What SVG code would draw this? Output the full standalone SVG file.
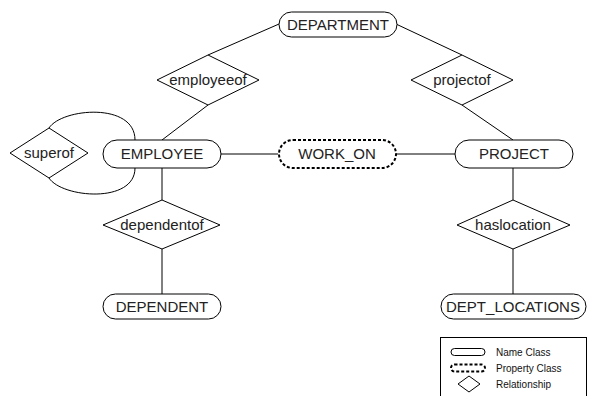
<svg xmlns="http://www.w3.org/2000/svg" width="590" height="396" viewBox="0 0 590 396">
<style>
.s{fill:#fff;stroke:#000;stroke-width:1}
.d{fill:#fff;stroke:#000;stroke-width:2;stroke-dasharray:3 2}
.c{fill:none;stroke:#000;stroke-width:1}
.t{font-family:"Liberation Sans",Arial,sans-serif;font-size:15px;fill:#222;text-anchor:middle}
.l{font-family:"Liberation Sans",Arial,sans-serif;font-size:10px;fill:#111}
</style>
<rect width="590" height="396" fill="#fff"/>
<g id="connectors">
<line class="c" x1="208" y1="55" x2="279" y2="24"/>
<line class="c" x1="208" y1="105" x2="162" y2="140"/>
<line class="c" x1="396" y1="24" x2="462" y2="55"/>
<line class="c" x1="462" y1="105" x2="513" y2="140"/>
<line class="c" x1="221" y1="154" x2="278" y2="154"/>
<line class="c" x1="396" y1="154" x2="455" y2="154"/>
<line class="c" x1="162" y1="168" x2="162" y2="200"/>
<line class="c" x1="162" y1="249" x2="162" y2="294"/>
<line class="c" x1="513" y1="168" x2="513" y2="200"/>
<line class="c" x1="513" y1="249" x2="513" y2="294"/>
<path class="c" d="M49 128 C62 108 135 102 135 140"/>
<path class="c" d="M49 178 C62 198 135 204 135 168"/>
</g>
<g id="DEPARTMENT"><rect class="s" x="279" y="12" width="118" height="25" rx="12.5"/><text class="t" x="338" y="30">DEPARTMENT</text></g>
<g id="employeeof"><polygon class="s" points="157,80 208,55 259,80 208,105"/><text class="t" x="208" y="85">employeeof</text></g>
<g id="projectof"><polygon class="s" points="411,80 462,55 513,80 462,105"/><text class="t" x="462" y="85">projectof</text></g>
<g id="superof"><polygon class="s" points="10,153 49,128 88,153 49,178"/><text class="t" x="49" y="158">superof</text></g>
<g id="EMPLOYEE"><rect class="s" x="103" y="140" width="118" height="28" rx="14"/><text class="t" x="162" y="159">EMPLOYEE</text></g>
<g id="WORK_ON"><rect class="d" x="279" y="140" width="117" height="28" rx="14"/><text class="t" x="337" y="159">WORK_ON</text></g>
<g id="PROJECT"><rect class="s" x="455" y="140" width="118" height="28" rx="14"/><text class="t" x="514" y="159">PROJECT</text></g>
<g id="dependentof"><polygon class="s" points="103,225 162,200 220,225 162,249"/><text class="t" x="162" y="230">dependentof</text></g>
<g id="haslocation"><polygon class="s" points="457,225 513,200 570,225 513,249"/><text class="t" x="513" y="230">haslocation</text></g>
<g id="DEPENDENT"><rect class="s" x="103" y="294" width="118" height="25" rx="12.5"/><text class="t" x="162" y="312">DEPENDENT</text></g>
<g id="DEPT_LOCATIONS"><rect class="s" x="441" y="294" width="145" height="25" rx="12.5"/><text class="t" x="513" y="312">DEPT_LOCATIONS</text></g>
<g id="legend">
<rect class="s" x="440.5" y="337.5" width="146" height="70"/>
<rect class="s" x="451" y="348.5" width="34" height="7" rx="3.5"/>
<text class="l" x="496" y="356">Name Class</text>
<rect class="d" x="451" y="364.5" width="34" height="7" rx="3.5"/>
<text class="l" x="496" y="372">Property Class</text>
<polygon class="s" points="458,384 469,376 480,384 469,392"/>
<text class="l" x="496" y="388">Relationship</text>
</g>
</svg>
